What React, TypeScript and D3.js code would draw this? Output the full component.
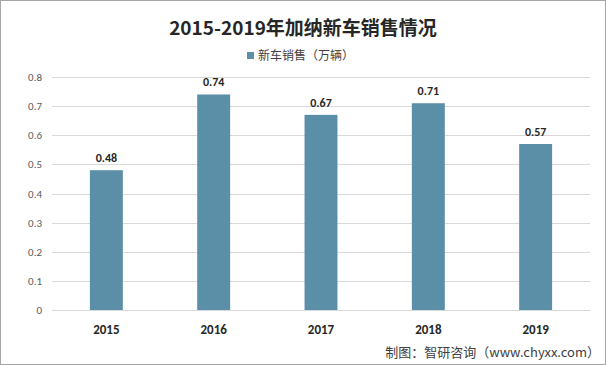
import { useEffect, useRef } from "react";
import * as d3 from "d3";

const years = ["2015", "2016", "2017", "2018", "2019"];
const sales = [0.48, 0.74, 0.67, 0.71, 0.57];
const yTicks = [0, 0.1, 0.2, 0.3, 0.4, 0.5, 0.6, 0.7, 0.8];

const title = "2015-2019年加纳新车销售情况";
const seriesName = "新车销售（万辆）";
const source = "制图：智研咨询（www.chyxx.com）";

const W = 606;
const H = 365;
const barColor = "#5B8FA7";
const font = "'Microsoft YaHei', 'Noto Sans CJK SC', sans-serif";
const numFont = "Calibri, Carlito, 'Liberation Sans', sans-serif";

export default function App() {
    const svgRef = useRef<SVGSVGElement | null>(null);

    useEffect(() => {
        const svg = d3.select(svgRef.current);
        svg.selectAll("*").remove();

        const margin = { top: 77, right: 16, bottom: 55, left: 52 };

        const x = d3.scaleBand()
            .domain(years)
            .range([margin.left, W - margin.right])
            .paddingInner(0.693)
            .paddingOuter(0.353);

        const y = d3.scaleLinear()
            .domain([0, 0.8])
            .range([H - margin.bottom, margin.top]);

        // outer border
        svg.append("rect")
            .attr("x", 0.5).attr("y", 0.5)
            .attr("width", W - 1).attr("height", H - 1)
            .attr("fill", "#fff")
            .attr("stroke", "#a6a6a6");

        // gridlines
        svg.append("g")
            .selectAll("line")
            .data(yTicks)
            .join("line")
            .attr("x1", margin.left)
            .attr("x2", W - margin.right)
            .attr("y1", (d) => Math.round(y(d)) + 0.5)
            .attr("y2", (d) => Math.round(y(d)) + 0.5)
            .attr("stroke", "#d9d9d9");

        // y axis labels
        svg.append("g")
            .selectAll("text")
            .data(yTicks)
            .join("text")
            .attr("x", 42)
            .attr("y", (d) => y(d) + 4)
            .attr("text-anchor", "end")
            .attr("font-family", numFont)
            .attr("font-size", 11)
            .attr("fill", "#595959")
            .text((d) => d3.format("~g")(d));

        // bars
        svg.append("g")
            .selectAll("rect")
            .data(sales)
            .join("rect")
            .attr("x", (d, i) => x(years[i]) as number)
            .attr("y", (d) => y(d))
            .attr("width", x.bandwidth())
            .attr("height", (d) => y(0) - y(d))
            .attr("fill", barColor);

        // value labels
        svg.append("g")
            .selectAll("text")
            .data(sales)
            .join("text")
            .attr("x", (d, i) => (x(years[i]) as number) + x.bandwidth() / 2)
            .attr("y", (d) => y(d) - 8)
            .attr("text-anchor", "middle")
            .attr("font-family", numFont)
            .attr("font-weight", "bold")
            .attr("font-size", 12)
            .attr("fill", "#262626")
            .text((d) => d3.format(".2f")(d));

        // x axis labels
        svg.append("g")
            .selectAll("text")
            .data(years)
            .join("text")
            .attr("x", (d) => (x(d) as number) + x.bandwidth() / 2)
            .attr("y", H - margin.bottom + 24)
            .attr("text-anchor", "middle")
            .attr("font-family", numFont)
            .attr("font-weight", "bold")
            .attr("font-size", 13)
            .attr("fill", "#262626")
            .text((d) => d);

        // title
        svg.append("text")
            .attr("x", W / 2)
            .attr("y", 35)
            .attr("text-anchor", "middle")
            .attr("font-family", font)
            .attr("font-weight", "bold")
            .attr("font-size", 19)
            .attr("fill", "#262626")
            .text(title);

        // legend
        svg.append("rect")
            .attr("x", 247).attr("y", 52)
            .attr("width", 7).attr("height", 7)
            .attr("fill", barColor);
        svg.append("text")
            .attr("x", 258)
            .attr("y", 60)
            .attr("font-family", font)
            .attr("font-size", 12)
            .attr("fill", "#404040")
            .text(seriesName);

        // source note
        svg.append("text")
            .attr("x", W - 6)
            .attr("y", 357)
            .attr("text-anchor", "end")
            .attr("font-family", font)
            .attr("font-size", 13)
            .attr("fill", "#404040")
            .text(source);
    }, []);

    return (
        <div style={{ position: "fixed", left: 0, top: 0 }}>
            <svg ref={svgRef} width={W} height={H} style={{ display: "block" }} />
        </div>
    );
}
